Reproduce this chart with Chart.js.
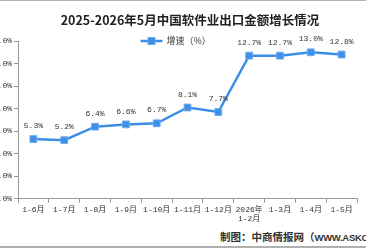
<!DOCTYPE html>
<html><head><meta charset="utf-8">
<script src="https://cdn.jsdelivr.net/npm/chart.js@4.4.1/dist/chart.umd.min.js"></script>
<style>
html,body{margin:0;padding:0;background:#fff;}
#wrap{position:relative;width:366px;height:248px;overflow:hidden;background:#fff;}
#topline{position:absolute;left:0;top:0;width:366px;height:1px;background:#b0b0b0;}
#botline{position:absolute;left:0;top:246px;width:366px;height:2px;background:#b0b0b0;}
#title{position:absolute;left:0;top:10px;width:380px;text-align:center;font:bold 12.5px "Noto Sans CJK SC";color:#222;white-space:nowrap;}
#footer{position:absolute;left:220px;top:229px;font:bold 10.5px "Noto Sans CJK SC";color:#333;white-space:nowrap;}
#footer .lat{font:bold 9.5px "Liberation Sans";letter-spacing:-0.3px;}
#c{position:absolute;left:-14px;top:0;}
</style>
</head><body>
<div id="wrap">
<div id="topline"></div>
<canvas id="c" width="380" height="226"></canvas>
<div id="title">2025-2026年5月中国软件业出口金额增长情况</div>
<div id="footer">制图：中商情报网（<span class="lat">WWW.ASKCI.COM</span>）</div>
<div id="botline"></div>
</div>
<script>
const categories = ["1-6月","1-7月","1-8月","1-9月","1-10月","1-11月","1-12月",["2026年","1-2月"],"1-3月","1-4月","1-5月"];
const growthRate = [5.3,5.2,6.4,6.6,6.7,8.1,7.7,12.7,12.7,13.0,12.8];
const seriesName = "增速（%）";
const yMin = 0, yMax = 14, yStep = 2;

const lineColor = '#3a8ee6';
const monoFont = '"Liberation Mono","Noto Sans CJK SC"';

const valueLabels = {
  id: 'valueLabels',
  afterDatasetsDraw(chart) {
    const ctx = chart.ctx;
    const meta = chart.getDatasetMeta(0);
    ctx.save();
    ctx.font = '8px ' + monoFont;
    ctx.fillStyle = '#333';
    ctx.textAlign = 'center';
    ctx.textBaseline = 'middle';
    meta.data.forEach((pt, i) => {
      ctx.fillText(growthRate[i].toFixed(1) + '%', pt.x, pt.y - 13);
    });
    ctx.restore();
  }
};

const innerLegend = {
  id: 'innerLegend',
  afterDraw(chart) {
    const ctx = chart.ctx;
    const a = chart.chartArea;
    const y = a.top;
    const x0 = (a.left + a.right) / 2 - 47;
    ctx.save();
    ctx.strokeStyle = lineColor;
    ctx.lineWidth = 2.5;
    ctx.beginPath();
    ctx.moveTo(x0, y); ctx.lineTo(x0 + 22, y); ctx.stroke();
    ctx.fillStyle = '#3d8fe8';
    ctx.fillRect(x0 + 7.5, y - 3.5, 7, 7);
    ctx.strokeStyle = '#6aaaf0';
    ctx.lineWidth = 1;
    ctx.strokeRect(x0 + 7.5, y - 3.5, 7, 7);
    ctx.font = '9px "Noto Sans CJK SC"';
    ctx.fillStyle = '#333';
    ctx.textAlign = 'left';
    ctx.textBaseline = 'middle';
    ctx.fillText(seriesName, x0 + 26, y);
    ctx.restore();
  }
};

new Chart(document.getElementById('c'), {
  type: 'line',
  data: {
    labels: categories,
    datasets: [{
      label: seriesName,
      data: growthRate,
      borderColor: lineColor,
      borderWidth: 2.5,
      backgroundColor: '#3d8fe8',
      pointStyle: 'rect',
      pointRadius: 4.8,
      pointBorderColor: '#6aaaf0',
      pointBorderWidth: 1,
      tension: 0,
      fill: false
    }]
  },
  options: {
    responsive: false,
    animation: false,
    devicePixelRatio: 1,
    layout: { padding: { top: 41, right: 9, left: 0, bottom: 0 } },
    plugins: { legend: { display: false }, title: { display: false }, tooltip: { enabled: false } },
    scales: {
      x: {
        offset: true,
        grid: { offset: true, drawOnChartArea: false, tickLength: 4, color: '#999' },
        border: { color: '#999', width: 1 },
        ticks: { font: { size: 8, family: monoFont }, color: '#333', maxRotation: 0, autoSkip: false, padding: 2 }
      },
      y: {
        min: yMin, max: yMax,
        grid: { drawOnChartArea: false, tickLength: 4, color: '#999' },
        border: { color: '#999', width: 1 },
        ticks: { stepSize: yStep, callback: v => v.toFixed(1) + '%', font: { size: 8, family: monoFont }, color: '#333', padding: 2 }
      }
    }
  },
  plugins: [valueLabels, innerLegend]
});
</script>
</body></html>
